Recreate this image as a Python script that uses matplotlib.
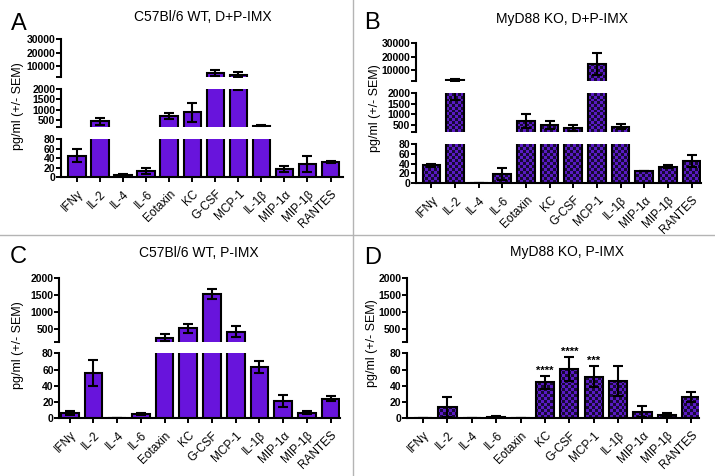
import numpy as np
import matplotlib
matplotlib.use('Agg')
import matplotlib.pyplot as plt
from matplotlib.path import Path
from matplotlib.colors import ListedColormap
from matplotlib.transforms import ScaledTranslation

plt.rcParams['font.family'] = ['Liberation Sans', 'DejaVu Sans']

# ── data (pg/ml, +/- SEM) ───────────────────────────────────────────────────
cytokines = ['IFNγ', 'IL-2', 'IL-4', 'IL-6', 'Eotaxin', 'KC', 'G-CSF',
             'MCP-1', 'IL-1β', 'MIP-1α', 'MIP-1β', 'RANTES']

wt_dp = [45, 420, 5, 13, 690, 870, 5200, 4000, 210, 17, 27, 31.5]
wt_dp_err = [13, 160, 1, 6, 130, 470, 1900, 1700, 30, 6, 17, 1.5]
wt_dp_err_lo = [13, 160, 1, 6, 130, 470, 1900, 2050, 30, 6, 17, 1.5]

ko_dp = [37, 2600, 0, 19, 675, 485, 355, 14250, 420, 25.5, 34, 45.5]
ko_dp_err = [3, 900, 0, 12.5, 320, 190, 145, 8250, 130, 0, 4, 12.5]

wt_p = [7, 56, 0, 5.3, 258, 530, 1525, 432, 63.6, 21.3, 7, 24.2]
wt_p_err = [2.5, 16, 0, 1.3, 97, 136, 135, 165, 7.4, 7, 2, 3.3]

ko_p = [0, 14.4, 0, 2, 0, 44.3, 60.7, 51.3, 46, 8.2, 4.5, 26.7]
ko_p_err = [0, 12.3, 0, 0.5, 0, 8.2, 15.2, 13.1, 18.8, 7, 1.7, 6.1]
ko_p_stars = ['', '', '', '', '', '****', '****', '***', '', '', '', '']

# broken y-axis segments: (low, high, labelled ticks), top segment first
segs_a = [(2000, 30000, [10000, 20000, 30000]),
          (150, 2000, [500, 1000, 1500, 2000]),
          (0, 80, [0, 20, 40, 60, 80])]
segs_b = [(1800, 30000, [10000, 20000, 30000]),
          (150, 2000, [500, 1000, 1500, 2000]),
          (0, 80, [0, 20, 40, 60, 80])]
segs_cd = [(140, 2000, [500, 1000, 1500, 2000]),
           (0, 80, [0, 20, 40, 60, 80])]

PURPLE = '#6814dc'
CHK_DARK = '#170a36'
CHK_LIGHT = '#5a1ac4'
W, H = 715, 476

fig = plt.figure(figsize=(W / 100, H / 100), dpi=100)


def add_ax(left, right, top, bottom):
    return fig.add_axes([left / W, 1 - bottom / H, (right - left) / W, (bottom - top) / H])


def checker_fill(ax, bars, w_px, h_px):
    ny, nx = int(h_px / 3) + 1, int(w_px / 3) + 1
    grid = np.indices((ny, nx)).sum(axis=0) % 2
    im = ax.imshow(grid, cmap=ListedColormap([CHK_DARK, CHK_LIGHT]), extent=(0, 1, 0, 1),
                   transform=ax.transAxes, aspect='auto', interpolation='nearest', zorder=2)
    paths = [b.get_path().transformed(b.get_patch_transform()) for b in bars]
    im.set_clip_path(Path.make_compound_path(*paths), ax.transData)


def draw_panel(letter, title, vals, err_hi, err_lo, segs, checker, xpx, rows, xlim,
               letter_xy, title_xy, ylab_xy, stars=None):
    x = np.arange(len(cytokines))
    v = np.array(vals, dtype=float)
    for k, ((lo, hi, ticks), (top, bot)) in enumerate(zip(segs, rows)):
        ax = add_ax(xpx[0], xpx[1], top, bot)
        ax.set_facecolor('none')
        last = k == len(segs) - 1
        if checker:
            bars = ax.bar(x, vals, width=0.75, facecolor='none', edgecolor='black',
                          linewidth=1.5, zorder=3)
            checker_fill(ax, bars, xpx[1] - xpx[0], bot - top)
        else:
            ax.bar(x, vals, width=0.75, color=PURPLE, edgecolor='black', linewidth=1.5, zorder=3)
        # error bars only where the bar reaches into this segment
        show = v >= lo
        ax.errorbar(x[show], v[show],
                    yerr=[np.array(err_lo)[show], np.array(err_hi)[show]],
                    fmt='none', ecolor='black', elinewidth=1.5, capsize=3.5,
                    capthick=1.5, zorder=4)
        ax.set_xlim(*xlim)
        ax.set_ylim(lo, hi)
        for s in ['top', 'right']:
            ax.spines[s].set_visible(False)
        ax.spines['left'].set_linewidth(1.5)
        ax.spines['bottom'].set_linewidth(1.5)
        if last:
            ax.set_yticks(ticks)
            ax.set_yticklabels([str(t) for t in ticks])
            ax.set_xticks(x)
            ax.set_xticklabels(cytokines, rotation=45, ha='right', va='center',
                               rotation_mode='anchor', fontsize=8.5)
            ax.tick_params(axis='x', length=3.5, width=1.4, pad=7.5)
            for lab in ax.get_xticklabels():
                lab.set_transform(lab.get_transform() + ScaledTranslation(0.045, 0, fig.dpi_scale_trans))
            if stars:
                for i, s in enumerate(stars):
                    if s:
                        ax.text(i, vals[i] + err_hi[i] + 2.5, s, ha='center', va='baseline',
                                fontsize=8, fontweight='bold', clip_on=False)
        else:
            ax.spines['bottom'].set_visible(False)
            ax.set_yticks([lo] + ticks)
            ax.set_yticklabels([''] + [str(t) for t in ticks])
            ax.tick_params(axis='x', bottom=False, labelbottom=False)
        ax.tick_params(axis='y', length=3.5, width=1.4, pad=0.5, labelsize=7.5)
        for lab in ax.get_yticklabels():
            lab.set_fontweight('bold')
    fig.text(letter_xy[0] / W, 1 - letter_xy[1] / H, letter, fontsize=17, ha='left', va='baseline')
    fig.text(title_xy[0] / W, 1 - title_xy[1] / H, title, fontsize=10, ha='center', va='center')
    fig.text(ylab_xy[0] / W, 1 - ylab_xy[1] / H, 'pg/ml (+/- SEM)', fontsize=9,
             rotation=90, ha='center', va='center')


draw_panel('A', 'C57Bl/6 WT, D+P-IMX', wt_dp, wt_dp_err, wt_dp_err_lo, segs_a, False,
           (61, 343), [(39, 77.3), (89, 127), (139, 177)], (-0.69, 11.54),
           (11, 30), (203, 17), (18, 106))
draw_panel('B', 'MyD88 KO, D+P-IMX', ko_dp, ko_dp_err, ko_dp_err, segs_b, True,
           (416, 701), [(43.3, 81), (93.3, 132.3), (144.3, 183)], (-0.65, 11.4),
           (364, 29), (562, 19), (375, 108))
draw_panel('C', 'C57Bl/6 WT, P-IMX', wt_p, wt_p_err, wt_p_err, segs_cd, False,
           (59.3, 340), [(277.7, 341.7), (353.3, 418.3)], (-0.44, 11.4),
           (10, 263), (199, 253), (18, 345))
draw_panel('D', 'MyD88 KO, P-IMX', ko_p, ko_p_err, ko_p_err, segs_cd, True,
           (407, 698.7), [(277.7, 341.7), (353.3, 418.3)], (-0.66, 11.31),
           (364, 264), (567, 252), (372, 343), stars=ko_p_stars)

# panel separators
fig.add_artist(plt.Line2D([352.7 / W] * 2, [0, 1], color='#b4b4b4', linewidth=1))
fig.add_artist(plt.Line2D([0, 1], [1 - 235 / H] * 2, color='#b4b4b4', linewidth=1))

fig.savefig('out.png', dpi=100)
